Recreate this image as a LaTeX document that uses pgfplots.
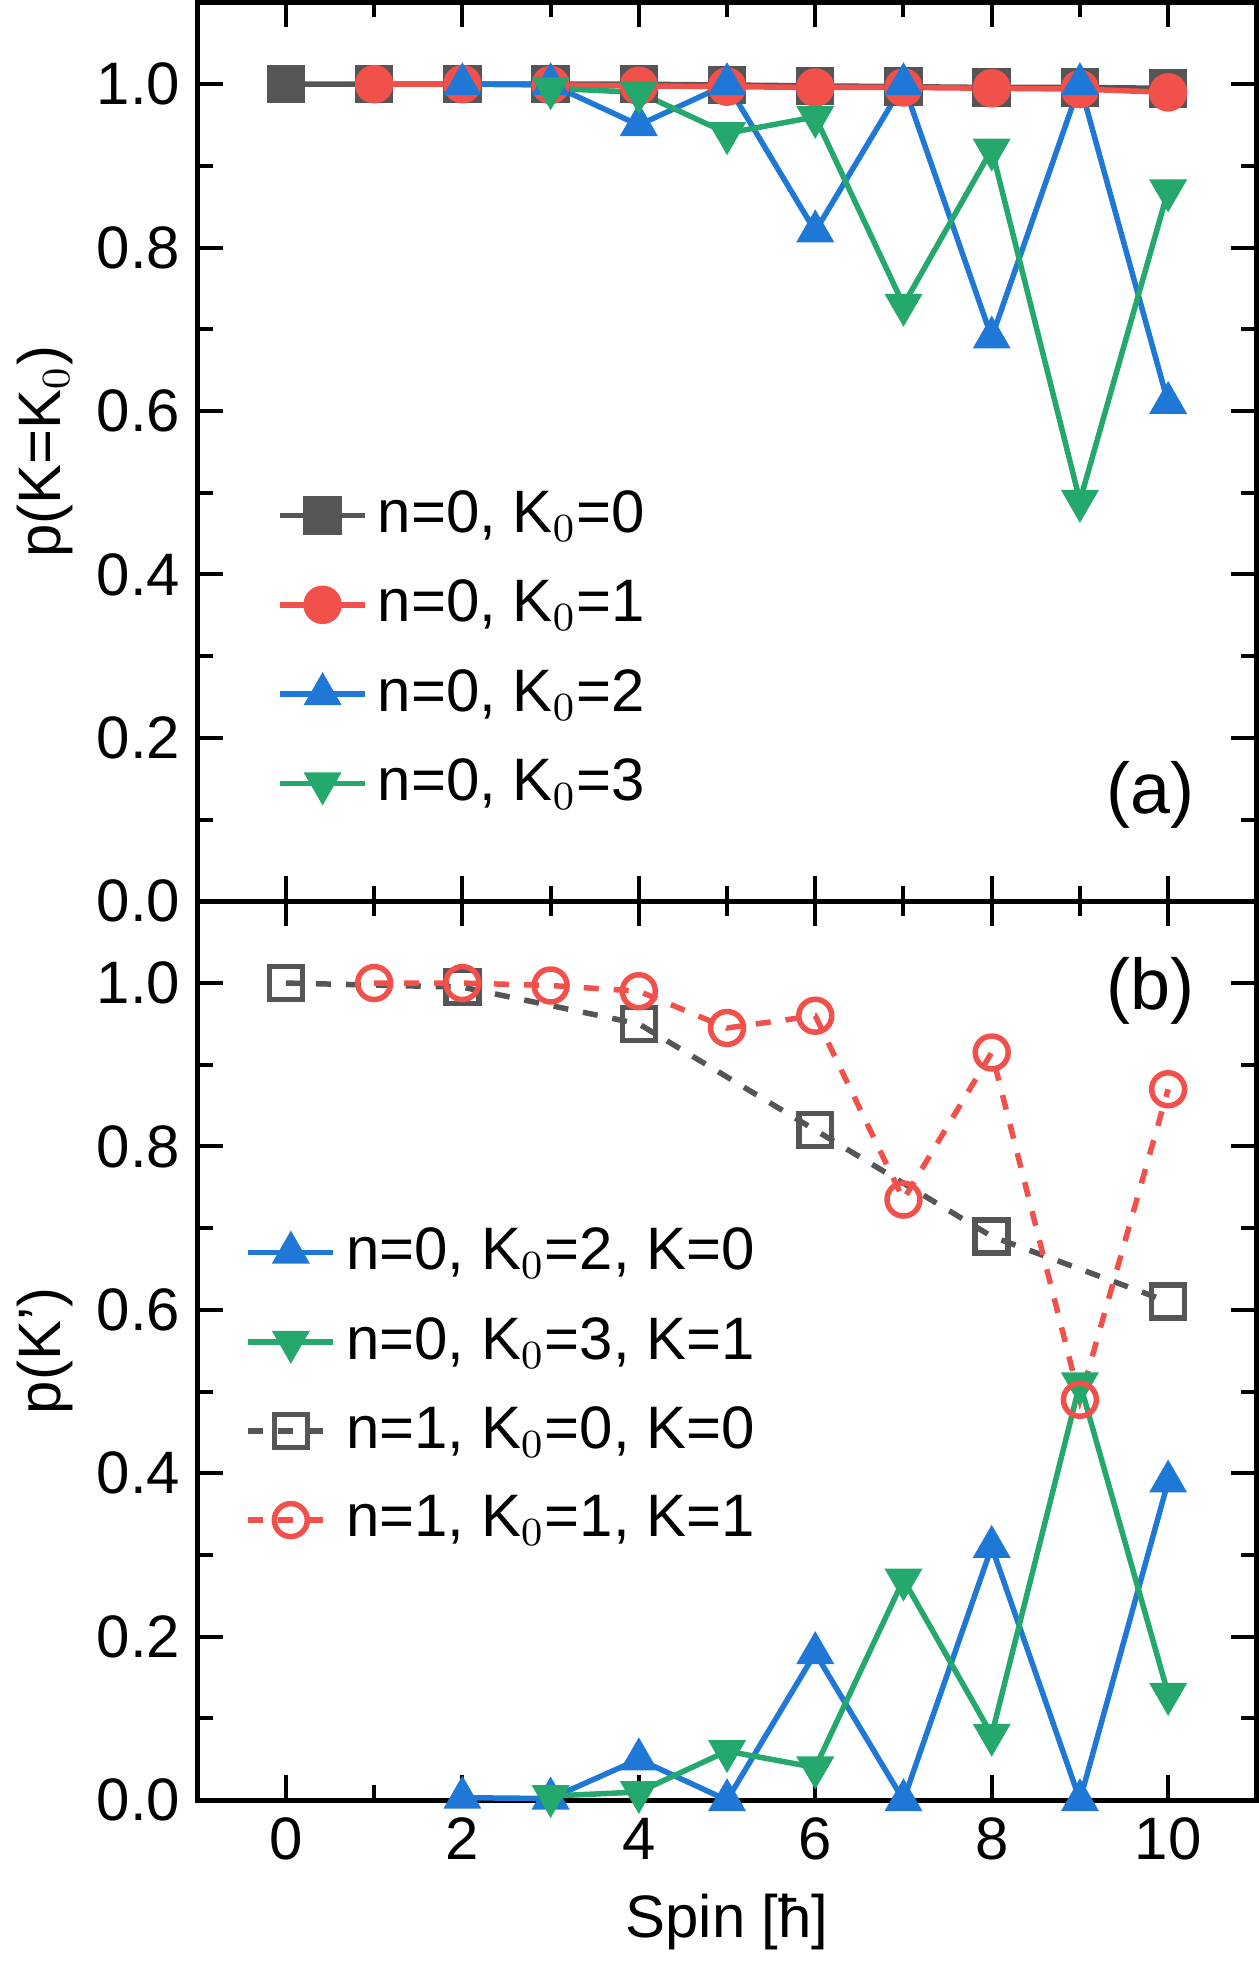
\documentclass[border=0pt]{standalone}
\usepackage{pgfplots}
\pgfplotsset{compat=1.18}
\usepgfplotslibrary{groupplots}
\usepackage{fontspec}
\setmainfont{Liberation Sans}
\definecolor{cgray}{HTML}{555555}
\definecolor{cred}{HTML}{F2504A}
\definecolor{cblue}{HTML}{1F78D6}
\definecolor{cgreen}{HTML}{24A86C}
\begin{document}
\begin{tikzpicture}
\begin{groupplot}[group style={group size=1 by 2, vertical sep=0pt, x descriptions at=edge bottom},
  scale only axis, width=212pt, height=180pt,
  xmin=-1, xmax=11, ymin=0, ymax=1.1,
  xtick={0,2,...,10}, minor xtick={1,3,...,9},
  ytick={0,0.2,...,1.0}, minor ytick={0.1,0.3,...,0.9},
  yticklabel style={/pgf/number format/fixed,/pgf/number format/fixed zerofill,/pgf/number format/precision=1},
  /pgf/number format/assume math mode=true,
  tick align=inside, tick pos=both, major tick length=5pt, minor tick length=3pt,
  axis line style={line width=1pt}, every tick/.style={line width=0.8pt,black},
  label style={font=\large}, tick label style={font=\large},
  legend cell align=left,
  legend style={draw=none, fill=none, font=\large, row sep=4pt},
  every axis plot/.append style={line width=1.1pt, mark size=3.3pt},
  ylabel style={yshift=-2pt},
]
\nextgroupplot[ylabel={p(K=K$_0$)}, legend style={at={(0.06,0.48)}, anchor=north west}]
\addplot[cgray, mark=square*] coordinates {(0,1.0)(1,1.0)(2,1.0)(3,1.0)(4,1.0)(5,0.999)(6,0.998)(7,0.997)(8,0.996)(9,0.996)(10,0.995)};
\addlegendentry{n=0, K$_0$=0}
\addplot[cred, mark=*] coordinates {(1,1.0)(2,1.0)(3,0.999)(4,0.998)(5,0.997)(6,0.996)(7,0.996)(8,0.995)(9,0.994)(10,0.99)};
\addlegendentry{n=0, K$_0$=1}
\addplot[cblue, mark=triangle*] coordinates {(2,1.0)(3,1.0)(4,0.95)(5,1.0)(6,0.82)(7,1.0)(8,0.69)(9,1.0)(10,0.61)};
\addlegendentry{n=0, K$_0$=2}
\addplot[cgreen, mark=triangle*, mark options={rotate=180}] coordinates {(3,0.995)(4,0.99)(5,0.94)(6,0.96)(7,0.73)(8,0.92)(9,0.49)(10,0.87)};
\addlegendentry{n=0, K$_0$=3}
\node at (axis cs:9.8,0.13) {\Large (a)};
\nextgroupplot[ylabel={p(K')}, xlabel={Spin [ħ]}, legend style={at={(0.03,0.66)}, anchor=north west}]
\addplot[cblue, mark=triangle*] coordinates {(2,0.003)(3,0.002)(4,0.05)(5,0.0)(6,0.18)(7,0.0)(8,0.31)(9,0.0)(10,0.39)};
\addlegendentry{n=0, K$_0$=2, K=0}
\addplot[cgreen, mark=triangle*, mark options={rotate=180}] coordinates {(3,0.005)(4,0.01)(5,0.06)(6,0.04)(7,0.27)(8,0.08)(9,0.51)(10,0.13)};
\addlegendentry{n=0, K$_0$=3, K=1}
\addplot[cgray, dashed, mark=square, mark options={solid, fill=white}] coordinates {(0,1.0)(2,0.995)(4,0.95)(6,0.82)(8,0.69)(10,0.61)};
\addlegendentry{n=1, K$_0$=0, K=0}
\addplot[cred, dashed, mark=o, mark options={solid, fill=white}] coordinates {(1,1.0)(2,1.0)(3,0.997)(4,0.99)(5,0.945)(6,0.96)(7,0.735)(8,0.915)(9,0.49)(10,0.87)};
\addlegendentry{n=1, K$_0$=1, K=1}
\node at (axis cs:9.8,0.99) {\Large (b)};
\end{groupplot}
\end{tikzpicture}
\end{document}
